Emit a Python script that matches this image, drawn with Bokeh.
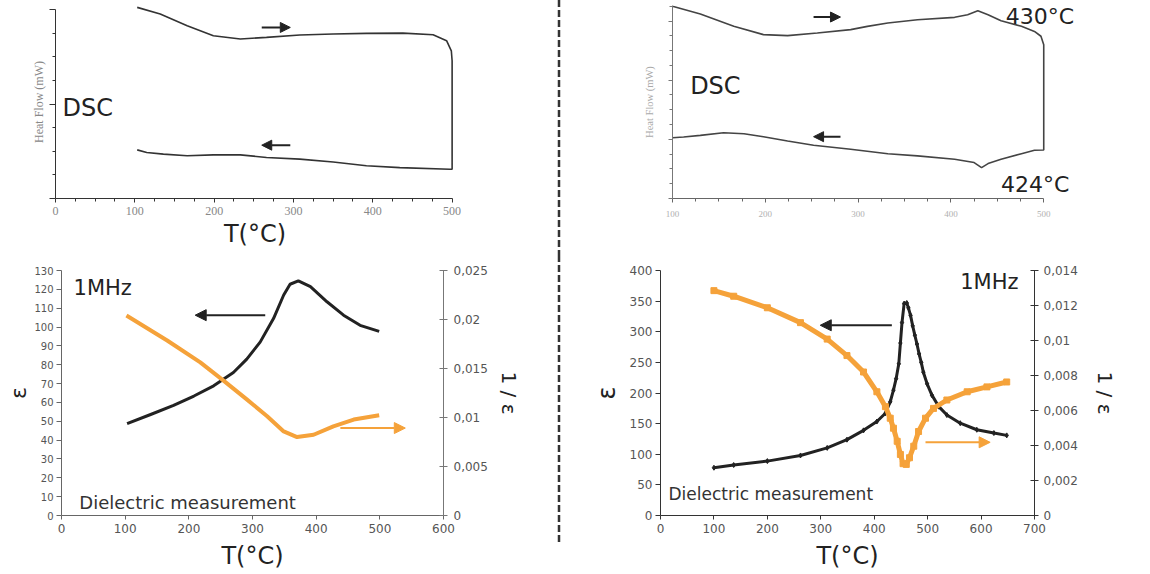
from bokeh.plotting import figure
from bokeh.layouts import row, column
from bokeh.models import (Range1d, LinearAxis, FixedTicker, CustomJSTickFormatter,
                          Arrow, NormalHead, Label, Div)
from bokeh.embed import file_html
from bokeh.resources import INLINE

# ---------------- data ----------------
# Top-left DSC (arbitrary heat-flow units)
dscL_heat_T = [103, 132, 166, 199, 233, 266, 308, 350, 392, 438, 476, 493, 499, 500, 500]
dscL_heat_hf = [8.10, 7.82, 7.32, 6.90, 6.76, 6.83, 6.93, 6.97, 7.00, 7.01, 6.94, 6.69, 6.26, 5.84, 1.24]
dscL_cool_T = [500, 497, 434, 392, 350, 308, 266, 233, 199, 166, 136, 115, 103]
dscL_cool_hf = [1.24, 1.24, 1.31, 1.39, 1.55, 1.67, 1.74, 1.85, 1.85, 1.81, 1.88, 1.95, 2.06]

# Top-right DSC
dscR_heat_T = [100, 130, 166, 198, 224, 256, 292, 310, 332, 364, 404, 418, 429, 440, 454, 476, 490, 497, 500, 500]
dscR_heat_hf = [13.0, 12.47, 11.64, 11.08, 11.01, 11.19, 11.42, 11.64, 11.87, 12.09, 12.25, 12.43, 12.70,
                12.43, 12.02, 11.64, 11.30, 10.97, 10.40, 3.28]
dscR_cool_T = [500, 490, 476, 454, 440, 433, 425, 404, 364, 332, 292, 252, 224, 198, 177, 155, 130, 112, 100]
dscR_cool_hf = [3.28, 3.26, 3.03, 2.65, 2.36, 2.09, 2.43, 2.65, 2.88, 3.03, 3.33, 3.60, 3.89, 4.18, 4.38,
                4.45, 4.27, 4.16, 4.11]

# Bottom-left dielectric (1 MHz)
bl_T_eps = [103, 140, 176, 208, 239, 270, 291, 312, 333, 349, 359, 372, 391, 417, 443, 469, 499]
bl_eps = [48.7, 53.6, 58.4, 63.4, 68.8, 75.9, 83.0, 92.0, 104.5, 117.0, 122.7, 124.5, 121.4, 113.4,
          106.3, 100.9, 97.7]
bl_T_inv = [102, 166, 218, 255, 291, 323, 349, 370, 396, 427, 459, 499]
bl_inv = [0.0204, 0.01786, 0.01562, 0.01374, 0.01185, 0.01013, 0.00858, 0.0080, 0.00824, 0.0091,
          0.00979, 0.01023]

# Bottom-right dielectric (1 MHz)
br_T_eps = [100, 137, 200, 262, 312, 349, 380, 405, 421, 430, 436, 441, 446, 449, 452, 456, 461, 464,
            468, 472, 476, 480, 484, 488, 492, 499, 508, 521, 536, 561, 592, 624, 648]
br_eps = [78, 82.4, 88.8, 98, 110.4, 123.8, 139, 153.4, 166.9, 185.7, 204.6, 223.4, 247.6, 281.6, 315,
          346, 347, 339, 326.8, 309.6, 294.5, 280, 263.8, 250, 234, 215, 196.5, 177.7, 164, 150.7, 140,
          134.6, 130.8]
br_T_inv = [100, 137, 200, 262, 312, 349, 380, 405, 421, 430, 436, 443, 449, 454, 460, 466, 474, 483,
            496, 511, 536, 574, 611, 648]
br_inv = [0.01285, 0.01253, 0.01187, 0.01102, 0.01008, 0.00914, 0.0082, 0.00707, 0.00622, 0.00556,
          0.00499, 0.00424, 0.00349, 0.00296, 0.00292, 0.0033, 0.00396, 0.0048, 0.00556, 0.00612,
          0.0066, 0.00707, 0.00735, 0.00763]

# ticks
dscL_x_ticks = [0, 100, 200, 300, 400, 500]
dscR_x_ticks = [100, 200, 300, 400, 500]
bl_x_ticks = [0, 100, 200, 300, 400, 500, 600]
bl_y_ticks = list(range(0, 131, 10))
bl_inv_ticks = [0, 0.005, 0.01, 0.015, 0.02, 0.025]
br_x_ticks = [0, 100, 200, 300, 400, 500, 600, 700]
br_y_ticks = [0, 50, 100, 150, 200, 250, 300, 350, 400]
br_inv_ticks = [0, 0.002, 0.004, 0.006, 0.008, 0.01, 0.012, 0.014]

# ---------------- styling ----------------
BLACK = "#222222"
ORANGE = "#F5A23A"
SANS = "DejaVu Sans"
SERIF = "Liberation Serif"

comma_fmt = CustomJSTickFormatter(code="return tick == 0 ? '0' : tick.toString().replace('.', ',');")
blank_fmt = CustomJSTickFormatter(code="return '';")


def base(width, height, xr, yr, ml, mr, mt, mb):
    p = figure(width=width, height=height, x_range=Range1d(*xr), y_range=Range1d(*yr),
               output_backend="svg", toolbar_location=None,
               min_border_left=ml, min_border_right=mr, min_border_top=mt, min_border_bottom=mb)
    p.outline_line_color = None
    p.xgrid.visible = False
    p.ygrid.visible = False
    p.background_fill_color = "white"
    p.border_fill_color = "white"
    return p


def style_axis(ax, color, lab_color, lab_font, lab_size, tick_in=0, tick_out=4, minor_out=0):
    ax.axis_line_color = color
    ax.major_tick_line_color = color
    ax.minor_tick_line_color = color
    ax.major_tick_in = tick_in
    ax.major_tick_out = tick_out
    ax.minor_tick_in = 0
    ax.minor_tick_out = minor_out
    ax.major_label_text_color = lab_color
    ax.major_label_text_font = lab_font
    ax.major_label_text_font_size = lab_size
    ax.axis_label_text_font_style = "normal"


def minor(majors, step):
    out = []
    v = majors[0]
    while v <= majors[-1]:
        if v not in majors:
            out.append(v)
        v += step
    return out


def divider(height, y_end):
    svg = ('<svg width="12" height="%d" style="display:block">'
           '<line x1="6" y1="0" x2="6" y2="%d" stroke="#333333" stroke-width="2.5" '
           'stroke-dasharray="7 3"/></svg>' % (height, y_end))
    return Div(text=svg, width=12, height=height, margin=0)


# ---------------- top-left DSC ----------------
tl = base(553, 255, (0, 503), (0, 8.18), 55, 99, 5, 57)
tl.line(dscL_heat_T + dscL_cool_T, dscL_heat_hf + dscL_cool_hf, line_color="#333333", line_width=1.6)
xa = tl.xaxis[0]
xa.bounds = (0, 500)
xa.ticker = FixedTicker(ticks=dscL_x_ticks, minor_ticks=minor(dscL_x_ticks, 25))
style_axis(xa, "#333333", "#888888", SERIF, "12px", tick_out=4, minor_out=3)
xa.major_label_standoff = 4
xa.axis_label = "T(°C)"
xa.axis_label_text_font = SANS
xa.axis_label_text_font_size = "24px"
xa.axis_label_text_color = BLACK
xa.axis_label_standoff = 2
ya = tl.yaxis[0]
ya.bounds = (0, 8)
ya.ticker = FixedTicker(ticks=[0, 4, 8], minor_ticks=[1, 2, 3, 5, 6, 7])
ya.formatter = blank_fmt
style_axis(ya, "#333333", "#888888", SERIF, "12px", tick_out=6, minor_out=3)
ya.axis_label = "Heat Flow (mW)"
ya.axis_label_text_font = SERIF
ya.axis_label_text_font_size = "12px"
ya.axis_label_text_color = "#888888"
ya.axis_label_standoff = 4
tl.add_layout(Label(x=8.8, y=3.84, text="DSC", text_font=SANS, text_font_size="24px",
                    text_color=BLACK, text_baseline="middle"))
tl.add_layout(Arrow(x_start=260, y_start=7.25, x_end=296, y_end=7.25, line_color=BLACK, line_width=2,
                    end=NormalHead(size=10, fill_color=BLACK, line_color=BLACK)))
tl.add_layout(Arrow(x_start=296, y_start=2.26, x_end=260, y_end=2.26, line_color=BLACK, line_width=2,
                    end=NormalHead(size=10, fill_color=BLACK, line_color=BLACK)))

# ---------------- top-right DSC ----------------
tr = base(585, 255, (100, 545), (0, 13.05), 107, 65, 5, 57)
tr.line(dscR_heat_T + dscR_cool_T, dscR_heat_hf + dscR_cool_hf, line_color="#444444", line_width=1.6)
xa = tr.xaxis[0]
xa.bounds = (100, 500)
xa.ticker = FixedTicker(ticks=dscR_x_ticks, minor_ticks=minor(dscR_x_ticks, 25))
style_axis(xa, "#666666", "#b0b0b0", SERIF, "9px", tick_out=4, minor_out=3)
xa.major_label_standoff = 8
ya = tr.yaxis[0]
ya.ticker = FixedTicker(ticks=[0, 4, 8, 12], minor_ticks=[1, 2, 3, 5, 6, 7, 9, 10, 11, 13])
ya.formatter = blank_fmt
style_axis(ya, "#777777", "#aaaaaa", SERIF, "9px", tick_out=4, minor_out=3)
ya.axis_label = "Heat Flow (mW)"
ya.axis_label_text_font = SERIF
ya.axis_label_text_font_size = "10.5px"
ya.axis_label_text_color = "#aaaaaa"
ya.axis_label_standoff = 14
tr.add_layout(Label(x=119, y=7.6, text="DSC", text_font=SANS, text_font_size="24px",
                    text_color=BLACK, text_baseline="middle"))
tr.add_layout(Label(x=459, y=12.3, text="430°C", text_font=SANS, text_font_size="22px",
                    text_color=BLACK, text_baseline="middle"))
tr.add_layout(Label(x=454, y=0.97, text="424°C", text_font=SANS, text_font_size="22px",
                    text_color=BLACK, text_baseline="middle"))
tr.add_layout(Arrow(x_start=252, y_start=12.27, x_end=281, y_end=12.27, line_color=BLACK, line_width=2,
                    end=NormalHead(size=10, fill_color=BLACK, line_color=BLACK)))
tr.add_layout(Arrow(x_start=281, y_start=4.18, x_end=252, y_end=4.18, line_color=BLACK, line_width=2,
                    end=NormalHead(size=10, fill_color=BLACK, line_color=BLACK)))

# ---------------- bottom-left dielectric ----------------
bl = base(553, 319, (0, 600), (0, 130), 61, 110, 15, 59)
bl.extra_y_ranges = {"inv": Range1d(0, 0.025)}
bl.line(bl_T_eps, bl_eps, line_color=BLACK, line_width=3)
bl.line(bl_T_inv, bl_inv, line_color=ORANGE, line_width=4, y_range_name="inv")
xa = bl.xaxis[0]
xa.ticker = FixedTicker(ticks=bl_x_ticks)
style_axis(xa, "#666666", "#555555", SANS, "12px", tick_out=4)
xa.major_label_standoff = 4
xa.axis_label = "T(°C)"
xa.axis_label_text_font = SANS
xa.axis_label_text_font_size = "24px"
xa.axis_label_text_color = BLACK
xa.axis_label_standoff = 6
ya = bl.yaxis[0]
ya.ticker = FixedTicker(ticks=bl_y_ticks)
style_axis(ya, "#666666", "#555555", SANS, "10px", tick_out=5)
ya.major_label_standoff = 3
ya.axis_label = "ε"
ya.axis_label_text_font = SANS
ya.axis_label_text_font_size = "22px"
ya.axis_label_text_color = BLACK
ya.axis_label_standoff = 0
ra = LinearAxis(y_range_name="inv", ticker=FixedTicker(ticks=bl_inv_ticks), formatter=comma_fmt)
style_axis(ra, "#777777", "#555555", SANS, "12px", tick_in=4, tick_out=4)
ra.major_label_standoff = 6
ra.axis_label = "1 / ε"
ra.axis_label_text_font = SANS
ra.axis_label_text_font_size = "20px"
ra.axis_label_text_color = BLACK
ra.axis_label_standoff = 6
bl.add_layout(ra, "right")
bl.add_layout(Label(x=19, y=120.7, text="1MHz", text_font=SANS, text_font_size="21px",
                    text_color=BLACK, text_baseline="middle"))
bl.add_layout(Label(x=28, y=7.1, text="Dielectric measurement", text_font=SANS, text_font_size="18px",
                    text_color="#333333", text_baseline="middle"))
bl.add_layout(Arrow(x_start=320, y_start=106.3, x_end=210, y_end=106.3, line_color=BLACK, line_width=2,
                    end=NormalHead(size=11, fill_color=BLACK, line_color=BLACK)))
bl.add_layout(Arrow(x_start=438, y_start=46.4, x_end=540, y_end=46.4, line_color=ORANGE, line_width=2,
                    end=NormalHead(size=11, fill_color=ORANGE, line_color=ORANGE)))

# ---------------- bottom-right dielectric ----------------
br = base(585, 319, (0, 700), (0, 400), 95, 116, 15, 59)
br.extra_y_ranges = {"inv": Range1d(0, 0.014)}
br.line(br_T_eps, br_eps, line_color=BLACK, line_width=3)
br.scatter(br_T_eps, br_eps, marker="diamond", size=5, fill_color=BLACK, line_color=BLACK)
br.line(br_T_inv, br_inv, line_color=ORANGE, line_width=5, y_range_name="inv")
br.scatter(br_T_inv, br_inv, marker="square", size=6, fill_color=ORANGE, line_color=ORANGE,
           y_range_name="inv")
xa = br.xaxis[0]
xa.ticker = FixedTicker(ticks=br_x_ticks)
style_axis(xa, "#333333", "#555555", SANS, "12px", tick_out=4)
xa.major_label_standoff = 4
xa.axis_label = "T(°C)"
xa.axis_label_text_font = SANS
xa.axis_label_text_font_size = "24px"
xa.axis_label_text_color = BLACK
xa.axis_label_standoff = 6
ya = br.yaxis[0]
ya.ticker = FixedTicker(ticks=br_y_ticks)
style_axis(ya, "#333333", "#555555", SANS, "12px", tick_out=5)
ya.major_label_standoff = 3
ya.axis_label = "ε"
ya.axis_label_text_font = SANS
ya.axis_label_text_font_size = "24px"
ya.axis_label_text_color = BLACK
ya.axis_label_standoff = 6
ra = LinearAxis(y_range_name="inv", ticker=FixedTicker(ticks=br_inv_ticks), formatter=comma_fmt)
style_axis(ra, "#333333", "#555555", SANS, "12px", tick_in=4, tick_out=4)
ra.major_label_standoff = 5
ra.axis_label = "1 / ε"
ra.axis_label_text_font = SANS
ra.axis_label_text_font_size = "20px"
ra.axis_label_text_color = BLACK
ra.axis_label_standoff = 12
br.add_layout(ra, "right")
br.add_layout(Label(x=561, y=382, text="1MHz", text_font=SANS, text_font_size="21px",
                    text_color=BLACK, text_baseline="middle"))
br.add_layout(Label(x=15, y=35, text="Dielectric measurement", text_font=SANS, text_font_size="17px",
                    text_color="#333333", text_baseline="middle"))
br.add_layout(Arrow(x_start=433, y_start=310.6, x_end=299, y_end=310.6, line_color=BLACK, line_width=2,
                    end=NormalHead(size=11, fill_color=BLACK, line_color=BLACK)))
br.add_layout(Arrow(x_start=496, y_start=119.5, x_end=617, y_end=119.5, line_color=ORANGE, line_width=2,
                    end=NormalHead(size=11, fill_color=ORANGE, line_color=ORANGE)))

dvt = divider(255, 255)
dvb = divider(319, 290)

layout = column(row(tl, dvt, tr), row(bl, dvb, br))

open("out.html", "w").write(file_html(layout, INLINE))
